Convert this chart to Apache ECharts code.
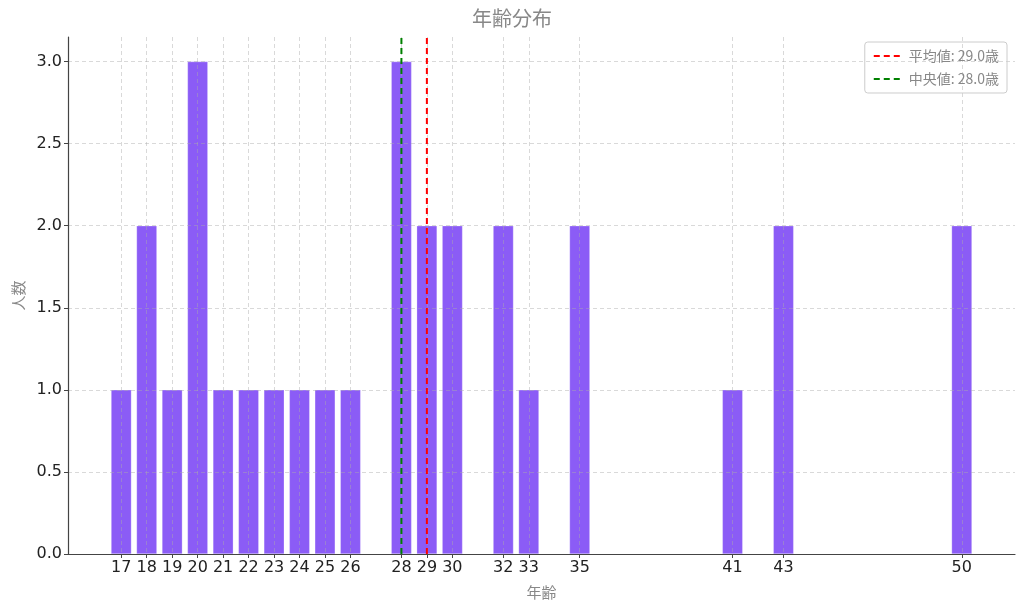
<!DOCTYPE html>
<html>
<head>
<meta charset="utf-8">
<script src="https://cdn.jsdelivr.net/npm/echarts@6/dist/echarts.min.js"></script>
<style>html,body{margin:0;padding:0;background:#fff}#main{width:1024px;height:611px}</style>
</head>
<body>
<div id="main"></div>
<script>
const ages = [17, 18, 19, 20, 21, 22, 23, 24, 25, 26, 28, 29, 30, 32, 33, 35, 41, 43, 50];
const counts = [1, 2, 1, 3, 1, 1, 1, 1, 1, 1, 3, 2, 2, 2, 1, 2, 1, 2, 2];
const meanAge = 29.0;
const medianAge = 28.0;
const yTicks = [0, 0.5, 1.0, 1.5, 2.0, 2.5, 3.0];

const FONT = "'DejaVu Sans', 'Noto Sans CJK JP', sans-serif";
const CJK = "'Noto Sans CJK JP', sans-serif";
const X_MIN = 14.91, X_MAX = 52.09, Y_MAX = 3.15;
const GRID = { left: 68, right: 9, top: 37, bottom: 57, outerBoundsMode: 'none' };
const plotW = 1024 - GRID.left - GRID.right;
const barW = 0.8 * plotW / (X_MAX - X_MIN);
const gridLine = { show: true, lineStyle: { color: 'rgba(170,170,170,0.45)', type: [4, 3], width: 1 } };

const chart = echarts.init(document.getElementById('main'));
chart.setOption({
  animation: false,
  textStyle: { fontFamily: FONT },
  title: {
    text: '年齢分布', left: 'center', top: 3,
    textStyle: { fontFamily: CJK, fontSize: 20, fontWeight: 'normal', color: '#888' }
  },
  legend: {
    right: 17, top: 42, orient: 'vertical', itemWidth: 30, itemHeight: 10, itemGap: 9,
    padding: [7, 8], borderColor: '#ccc', borderWidth: 1, borderRadius: 3,
    itemStyle: { opacity: 0 },
    textStyle: { fontSize: 14, color: '#888', fontFamily: CJK },
    data: ['平均値: 29.0歳', '中央値: 28.0歳']
  },
  grid: GRID,
  xAxis: {
    type: 'value', min: X_MIN, max: X_MAX, z: 3,
    name: '年齢', nameLocation: 'middle', nameGap: 31,
    nameTextStyle: { fontSize: 15, color: '#888', fontFamily: CJK },
    axisLine: { show: true, lineStyle: { color: '#444', width: 1.2 } },
    axisTick: { show: true, customValues: ages, length: 4, lineStyle: { color: '#444' } },
    axisLabel: { customValues: ages, fontSize: 16, color: '#222', margin: 6, fontFamily: FONT },
    splitLine: gridLine
  },
  yAxis: {
    type: 'value', min: 0, max: Y_MAX, z: 3,
    name: '人数', nameLocation: 'middle', nameGap: 42, nameRotate: 90,
    nameTextStyle: { fontSize: 15, color: '#888', fontFamily: CJK },
    axisLine: { show: true, lineStyle: { color: '#444', width: 1.2 } },
    axisTick: { show: true, customValues: yTicks, length: 4, inside: false, lineStyle: { color: '#444' } },
    axisLabel: { customValues: yTicks, fontSize: 16, color: '#222', margin: 6, fontFamily: FONT,
      formatter: v => v.toFixed(1) },
    splitLine: gridLine
  },
  series: [
    {
      type: 'bar', name: '人数', barWidth: barW, z: 2,
      itemStyle: { color: '#8B5CF6', borderColor: 'rgba(255,255,255,0.5)', borderWidth: 0.5 },
      data: ages.map((a, i) => [a, counts[i]])
    },
    {
      type: 'line', name: '平均値: 29.0歳', symbol: 'none', z: 4,
      lineStyle: { color: '#ff0000', type: [6, 4], width: 2 }, itemStyle: { color: '#ff0000' },
      data: [[meanAge, 0], [meanAge, Y_MAX]]
    },
    {
      type: 'line', name: '中央値: 28.0歳', symbol: 'none', z: 4,
      lineStyle: { color: '#008000', type: [6, 4], width: 2 }, itemStyle: { color: '#008000' },
      data: [[medianAge, 0], [medianAge, Y_MAX]]
    }
  ]
});
</script>
</body>
</html>
